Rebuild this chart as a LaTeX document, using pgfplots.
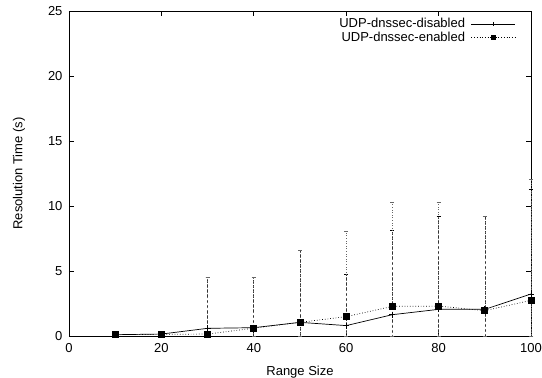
\documentclass[border=0pt]{standalone}
\usepackage{pgfplots}
\pgfplotsset{compat=1.18}
\usepackage{fontspec}
\setmainfont{Liberation Sans}
\begin{document}
\begin{tikzpicture}
\useasboundingbox (-69pt,-42pt) rectangle (473pt,336pt);
\begin{axis}[
  scale only axis,
  width=462pt, height=325pt,
  xmin=0, xmax=100, ymin=0, ymax=25,
  clip=false,
  xtick={0,20,40,60,80,100},
  ytick={0,5,10,15,20,25},
  tick align=inside,
  major tick length=5pt,
  xtick pos=both, ytick pos=both,
  font=\fontsize{13}{15}\selectfont,
  /pgf/number format/assume math mode=true,
  xticklabel style={yshift=-4pt},
  yticklabel style={xshift=-3pt},
  xlabel={Range Size},
  ylabel={Resolution Time (s)},
  xlabel style={yshift=-6pt},
  ylabel style={yshift=16pt},
  axis line style={line width=0.8pt},
  every tick/.style={line width=0.6pt,black},
  legend style={draw=none, fill=none, at={(0.974,0.99)}, anchor=north east,
    row sep=-1pt, font=\fontsize{13}{15}\selectfont,
    /tikz/every odd column/.append style={column sep=4pt}},
  legend cell align=right,
  legend plot pos=right,
  legend image code/.code={
    \draw[#1] (0pt,0pt) -- (44pt,0pt);
    \draw[#1, only marks, mark size=2pt] plot coordinates {(22pt,0pt)};
  },
]
\addplot[black, line width=0.7pt, mark=+, mark size=3pt,
  error bars/.cd, y dir=both, y explicit,
  error bar style={black!80, line width=0.6pt, densely dashed},
  error mark options={black, mark size=2pt, rotate=90, solid}]
  coordinates {
  (10,0.10) += (0,0.05) -= (0,0.05)
  (20,0.15) += (0,0.05) -= (0,0.05)
  (30,0.59) += (0,3.97) -= (0,0.59)
  (40,0.64) += (0,3.92) -= (0,0.64)
  (50,1.05) += (0,5.55) -= (0,1.05)
  (60,0.80) += (0,3.95) -= (0,0.80)
  (70,1.64) += (0,6.46) -= (0,1.64)
  (80,2.05) += (0,7.20) -= (0,2.05)
  (90,2.05) += (0,7.20) -= (0,2.05)
  (100,3.23) += (0,8.07) -= (0,3.23)
  };
\addlegendentry{UDP-dnssec-disabled}
\addplot[black, line width=0.7pt, dotted, mark=square*, mark size=3pt,
  mark options={solid},
  error bars/.cd, y dir=both, y explicit,
  error bar style={black!60, line width=0.6pt, dotted},
  error mark options={black!60, mark size=2pt, rotate=90, solid}]
  coordinates {
  (10,0.10) += (0,0.05) -= (0,0.05)
  (20,0.13) += (0,0.05) -= (0,0.05)
  (30,0.15) += (0,4.35) -= (0,0.15)
  (40,0.60) += (0,3.96) -= (0,0.60)
  (50,1.05) += (0,5.55) -= (0,1.05)
  (60,1.49) += (0,6.56) -= (0,1.49)
  (70,2.28) += (0,8.02) -= (0,2.28)
  (80,2.30) += (0,8.00) -= (0,2.30)
  (90,1.95) += (0,7.30) -= (0,1.95)
  (100,2.74) += (0,9.31) -= (0,2.74)
  };
\addlegendentry{UDP-dnssec-enabled}
\end{axis}
\end{tikzpicture}
\end{document}
